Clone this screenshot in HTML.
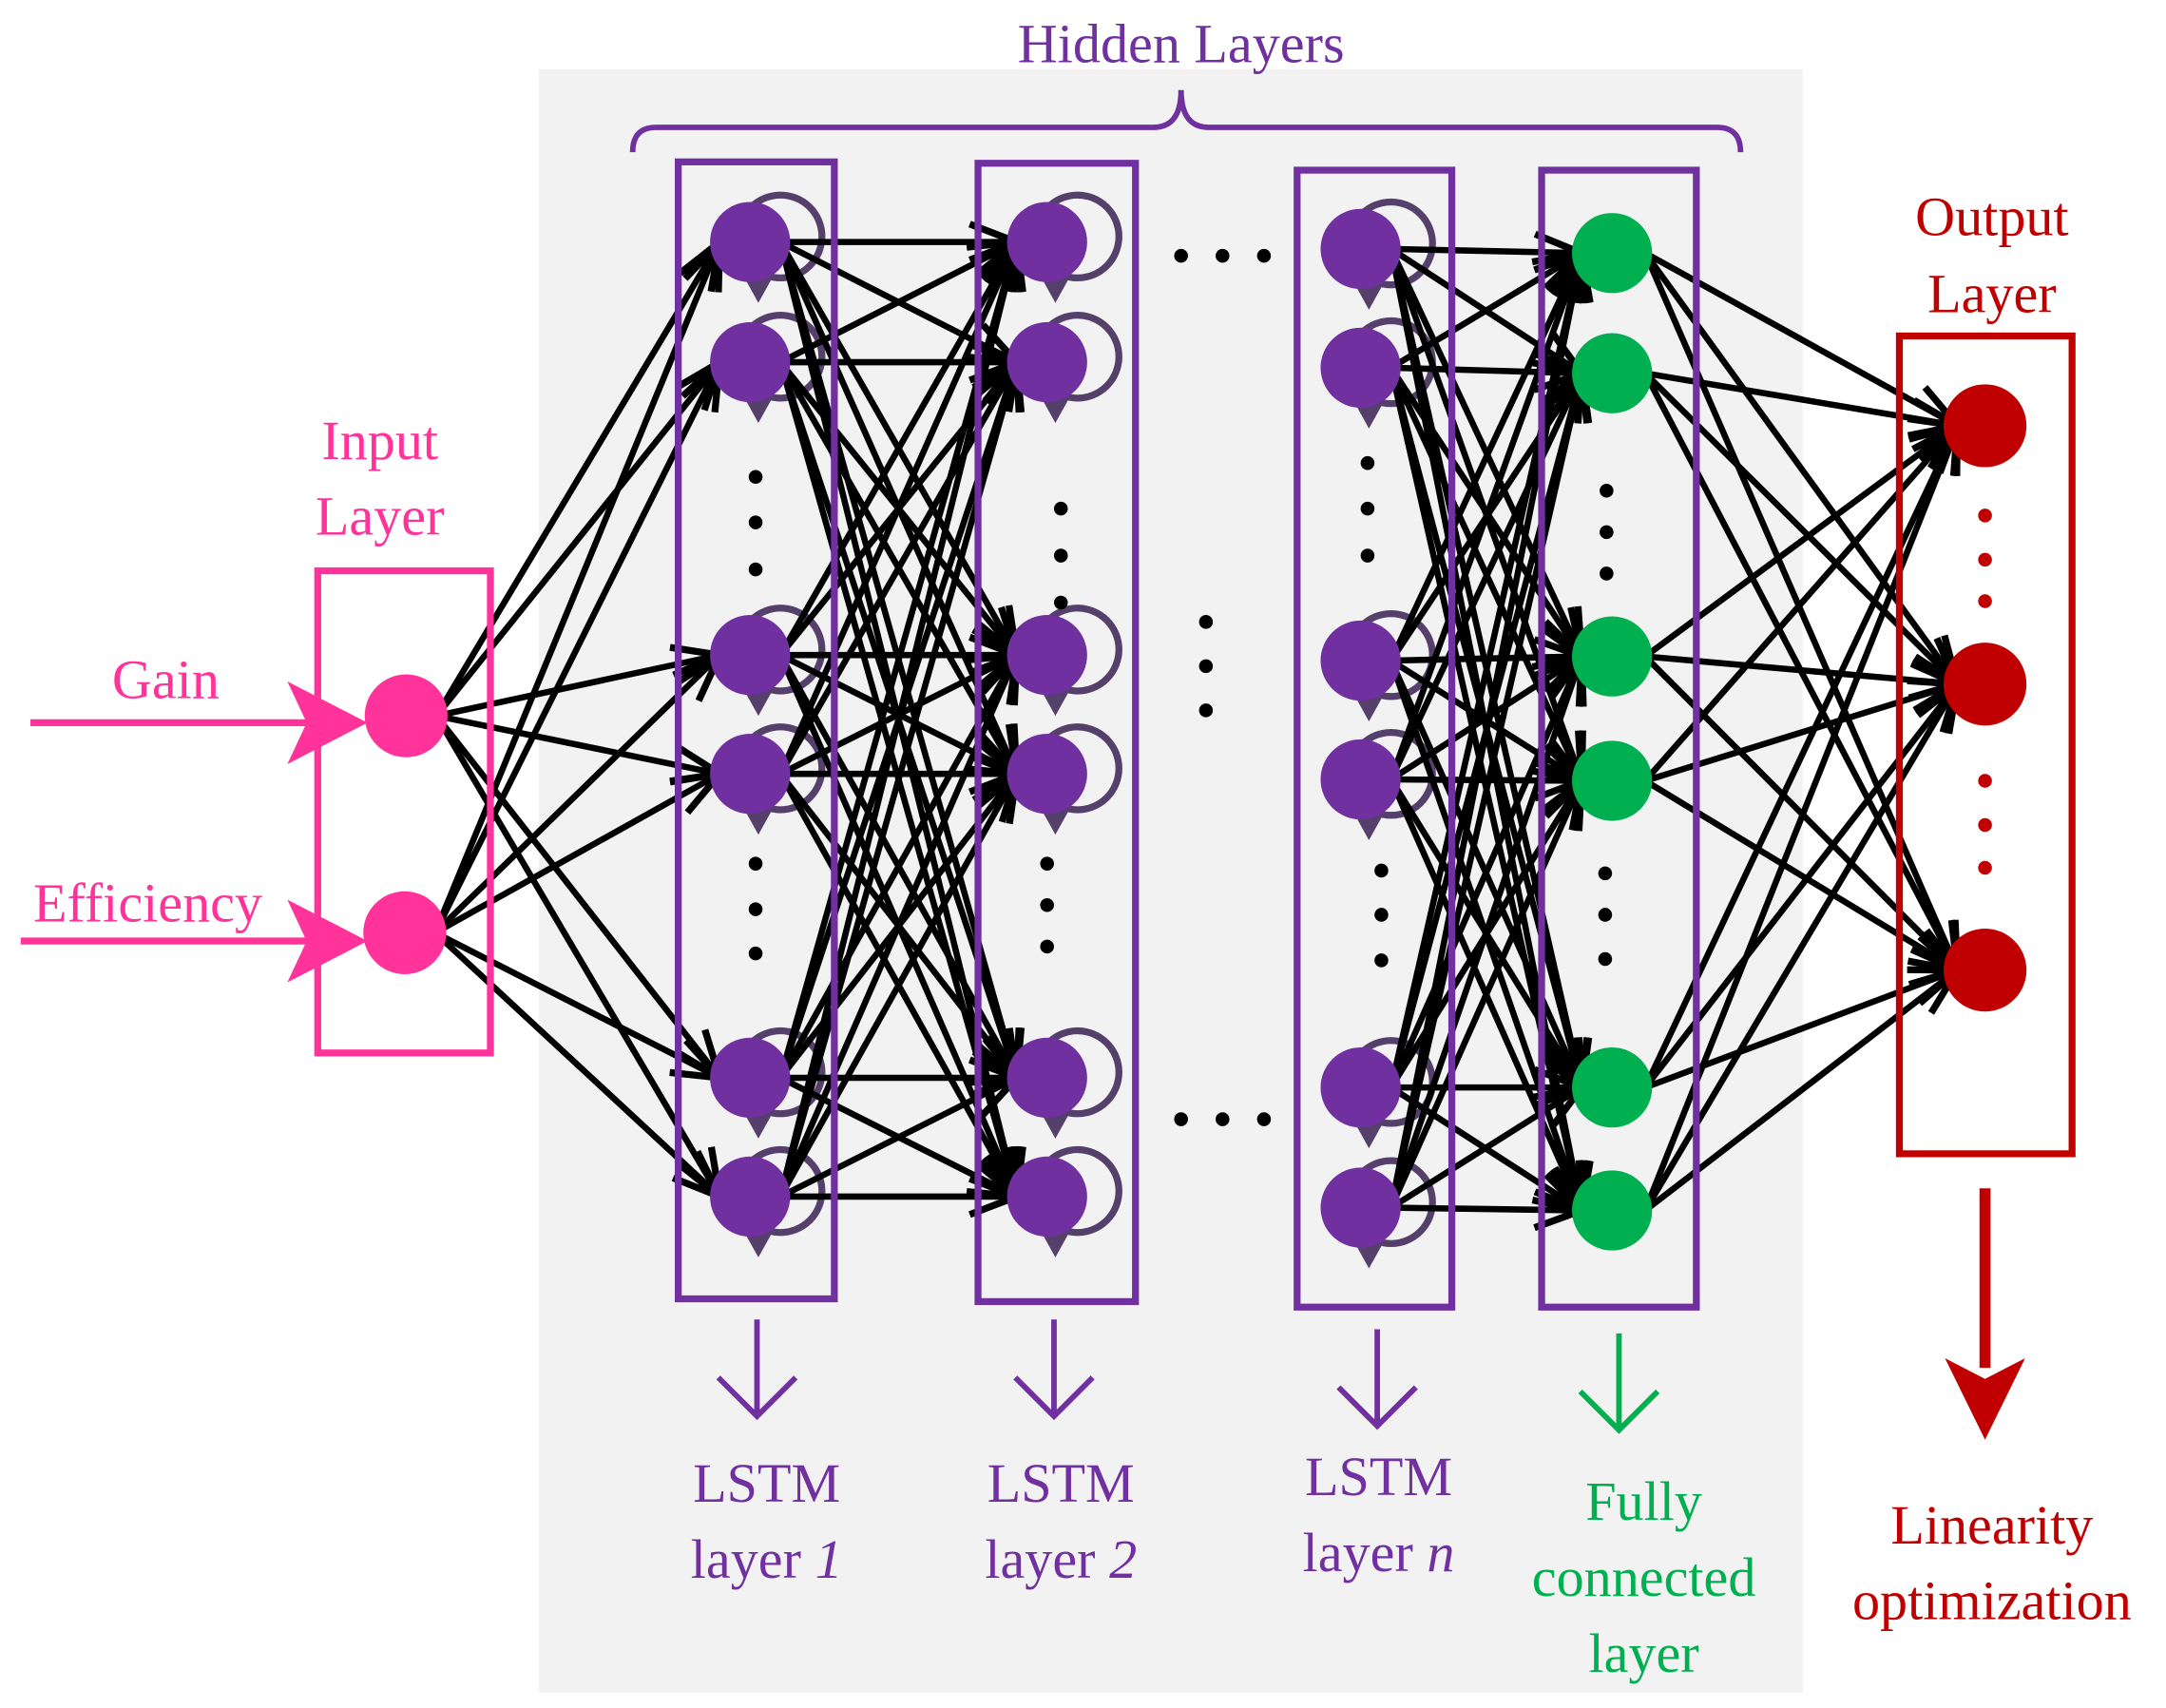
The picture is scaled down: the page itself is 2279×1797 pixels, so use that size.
<!DOCTYPE html>
<html><head><meta charset="utf-8"><style>
html,body{margin:0;padding:0;background:#fff;}
svg{display:block;}
</style></head><body>
<svg id="s" width="2279" height="1797" viewBox="0 0 1568 1236" xmlns="http://www.w3.org/2000/svg" font-family="Liberation Serif, serif">
<rect x="390" y="50" width="915" height="1175" fill="#f2f2f2"/>
<text x="855" y="45" font-size="40" fill="#7030a0" text-anchor="middle" font-family="Liberation Serif, serif">Hidden Layers</text>
<path d="M458,110 Q458,92 475,92 L835,92 Q855,92 855,65 Q855,92 875,92 L1243,92 Q1260,92 1260,110" fill="none" stroke="#7030a0" stroke-width="4"/>
<g id="loops"></g>
<g id="lines"></g>
<g id="nodes"></g>
<text x="275" y="332" font-size="40" fill="#ff3399" text-anchor="middle" font-family="Liberation Serif, serif">Input</text>
<text x="275" y="387" font-size="40" fill="#ff3399" text-anchor="middle" font-family="Liberation Serif, serif">Layer</text>
<rect x="230" y="413" width="125" height="349" fill="none" stroke="#ff3399" stroke-width="5"/>
<text x="120" y="505" font-size="40" fill="#ff3399" text-anchor="middle" font-family="Liberation Serif, serif">Gain</text>
<text x="107" y="667" font-size="40" fill="#ff3399" text-anchor="middle" font-family="Liberation Serif, serif">Efficiency</text>
<line x1="22" y1="523" x2="230" y2="523" stroke="#ff3399" stroke-width="5"/>
<polygon points="208,493 266,523 208,553 222,523" fill="#ff3399"/>
<line x1="15" y1="681" x2="230" y2="681" stroke="#ff3399" stroke-width="5"/>
<polygon points="208,651 266,681 208,711 222,681" fill="#ff3399"/>
<g fill="none" stroke-width="5">
<rect x="491" y="117" width="113" height="823" stroke="#7030a0"/>
<rect x="708" y="118" width="114" height="824" stroke="#7030a0"/>
<rect x="939" y="123" width="112" height="823" stroke="#7030a0"/>
<rect x="1116" y="123" width="112" height="823" stroke="#7030a0"/>
<rect x="1375" y="243" width="125" height="592" stroke="#c00000"/>
</g>
<text x="1442" y="170" font-size="40" fill="#c00000" text-anchor="middle" font-family="Liberation Serif, serif">Output</text>
<text x="1442" y="226" font-size="40" fill="#c00000" text-anchor="middle" font-family="Liberation Serif, serif">Layer</text>
<g id="dots" fill="#000"></g>
<g fill="none" stroke-width="4">
<path d="M548,955 L548,1025 M520,997 L548,1025 L576,997" stroke="#7030a0"/>
<path d="M763,955 L763,1025 M735,997 L763,1025 L791,997" stroke="#7030a0"/>
<path d="M997,962 L997,1032 M969,1004 L997,1032 L1025,1004" stroke="#7030a0"/>
<path d="M1172,965 L1172,1035 M1144,1007 L1172,1035 L1200,1007" stroke="#00b050"/>
</g>
<line x1="1437" y1="860" x2="1437" y2="990" stroke="#c00000" stroke-width="8"/>
<polygon points="1408,983 1437,1042 1466,983 1437,998" fill="#c00000"/>
<g font-size="40" text-anchor="middle" font-family="Liberation Serif, serif">
<text x="555" y="1087" fill="#7030a0">LSTM</text>
<text x="555" y="1142" fill="#7030a0">layer <tspan font-style="italic">1</tspan></text>
<text x="768" y="1087" fill="#7030a0">LSTM</text>
<text x="768" y="1142" fill="#7030a0">layer <tspan font-style="italic">2</tspan></text>
<text x="998" y="1082" fill="#7030a0">LSTM</text>
<text x="998" y="1137" fill="#7030a0">layer <tspan font-style="italic">n</tspan></text>
<text x="1190" y="1100" fill="#00b050">Fully</text>
<text x="1190" y="1155" fill="#00b050">connected</text>
<text x="1190" y="1210" fill="#00b050">layer</text>
<text x="1442" y="1117" fill="#c00000">Linearity</text>
<text x="1442" y="1172" fill="#c00000">optimization</text>
</g>
</svg>
<script>
var NS="http://www.w3.org/2000/svg";
function el(p,t,a){var e=document.createElementNS(NS,t);for(var k in a)e.setAttribute(k,a[k]);document.getElementById(p).appendChild(e);return e;}
var inp=[[294,518],[293,675]];
var L1=[175,262,474,560,780,866].map(function(y){return[543,y]});
var L2=[175,262,474,560,780,866].map(function(y){return[758,y]});
var Ln=[180,266,478,564,787,874].map(function(y){return[985,y]});
var FC=[183,270,475,565,787,876].map(function(y){return[1167,y]});
var OUT=[[1437,308],[1437,495],[1437,702]];
function conn(A,B,d1,d2){A.forEach(function(a){B.forEach(function(b){
var x1=a[0]+d1,y1=a[1],x2=b[0]-d2,y2=b[1];
el("lines","line",{x1:x1,y1:y1,x2:x2,y2:y2,stroke:"#000","stroke-width":4.5});
var dx=x2-x1,dy=y2-y1,l=Math.sqrt(dx*dx+dy*dy);dx/=l;dy/=l;
var s=34,w=13;
var bx=x2-dx*s,by=y2-dy*s;
el("lines","polyline",{points:(bx-dy*w)+","+(by+dx*w)+" "+x2+","+y2+" "+(bx+dy*w)+","+(by-dx*w),fill:"none",stroke:"#000","stroke-width":5});
});});}
conn(inp,L1,22,22);conn(L1,L2,22,22);conn(Ln,FC,22,22);conn(FC,OUT,24,20);
[L1,L2,Ln].forEach(function(L){L.forEach(function(n){
el("loops","circle",{cx:n[0]+22,cy:n[1]-4,r:30,fill:"none",stroke:"#54406a","stroke-width":5});
el("loops","polygon",{points:(n[0]-4)+","+(n[1]+26)+" "+(n[0]+16)+","+(n[1]+26)+" "+(n[0]+6)+","+(n[1]+44),fill:"#54406a"});
el("nodes","circle",{cx:n[0],cy:n[1],r:29,fill:"#7030a0"});});});
FC.forEach(function(n){el("nodes","circle",{cx:n[0],cy:n[1],r:29,fill:"#00b050"});});
OUT.forEach(function(n){el("nodes","circle",{cx:n[0],cy:n[1],r:30,fill:"#c00000"});});
inp.forEach(function(n){el("nodes","circle",{cx:n[0],cy:n[1],r:30,fill:"#ff3399"});});
function vd(x,ys,c){ys.forEach(function(y){el("dots","circle",{cx:x,cy:y,r:5,fill:c||"#000"});});}
vd(547,[345,378,412]);vd(547,[625,658,690]);
vd(768,[368,402,436]);vd(758,[625,655,685]);
vd(990,[335,368,402]);vd(1000,[630,662,695]);
vd(1163,[355,385,415]);vd(1162,[632,662,694]);
vd(1437,[373,405,435],"#c00000");vd(1437,[565,597,628],"#c00000");
vd(873,[450,482,514]);
[855,885,915].forEach(function(x){el("dots","circle",{cx:x,cy:185,r:5});el("dots","circle",{cx:x,cy:810,r:5});});
</script>
</body></html>
